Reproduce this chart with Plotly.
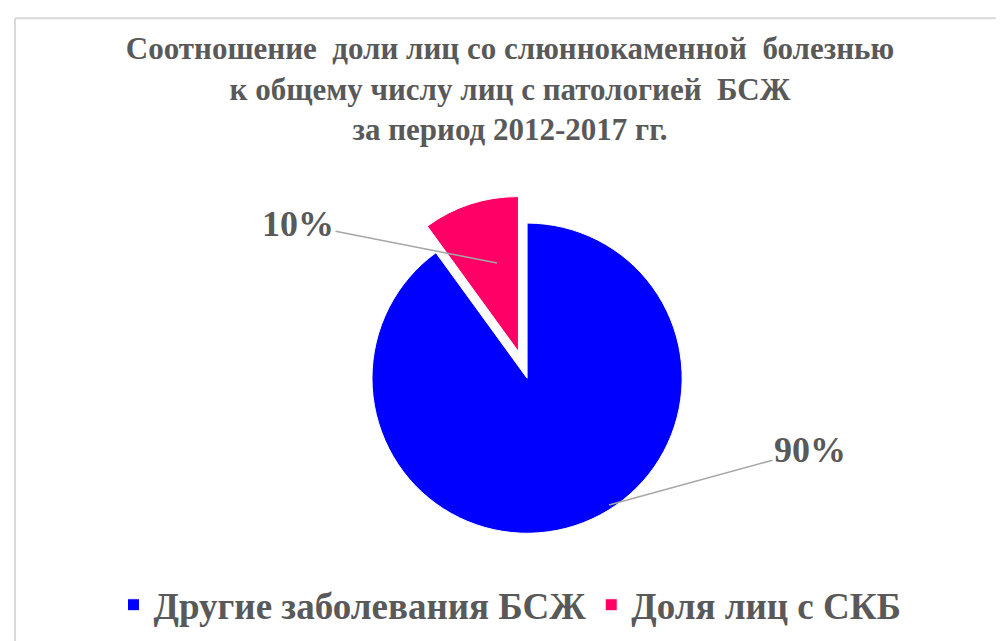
import plotly.graph_objects as go

categories = ["Другие заболевания БСЖ", "Доля лиц с СКБ"]
values = [90, 10]
colors = ["#0000FF", "#FF0066"]
pulls = [0, 0.18]

title_text = ("Соотношение  доли лиц со слюннокаменной  болезнью<br>"
              "к общему числу лиц с патологией  БСЖ<br>"
              "за период 2012-2017 гг.")

total = sum(values)
pct_text = [f"<b>{round(v / total * 100)}%</b>" for v in values]

fig = go.Figure(go.Pie(
    labels=categories,
    values=values,
    sort=False,
    direction="clockwise",
    rotation=0,
    pull=pulls,
    marker=dict(colors=colors, line=dict(color="white", width=1)),
    textinfo="none",
    domain=dict(x=[0.192, 0.842], y=[0.137, 0.708]),
    hoverinfo="label+percent",
))

label_font = dict(family="Liberation Serif", size=36, color="#595959")

fig.update_layout(
    width=1004, height=641,
    paper_bgcolor="white",
    margin=dict(l=0, r=0, t=0, b=0),
    title=dict(text="<b>" + title_text + "</b>", x=0.5, xanchor="center",
               y=0.92, yanchor="top",
               font=dict(family="Liberation Serif", size=31, color="#595959")),
    legend=dict(orientation="h", x=0.5, xanchor="center", y=0.02, yanchor="bottom",
                font=dict(family="Liberation Serif", size=37, color="#595959", weight="bold"),
                itemwidth=30, traceorder="normal"),
    annotations=[
        dict(text=pct_text[1], xref="paper", yref="paper",
             x=489 / 1004, y=1 - 255 / 641, ax=-199, ay=-39,
             showarrow=True, arrowhead=0, arrowwidth=1.5, arrowcolor="#A6A6A6",
             font=label_font),
        dict(text=pct_text[0], xref="paper", yref="paper",
             x=601 / 1004, y=1 - 497 / 641, ax=201, ay=-55,
             showarrow=True, arrowhead=0, arrowwidth=1.5, arrowcolor="#A6A6A6",
             font=label_font),
    ],
    shapes=[
        dict(type="line", xref="paper", yref="paper", x0=0.007, y0=0.984, x1=1.0, y1=0.984,
             line=dict(color="#D9D9D9", width=2)),
        dict(type="line", xref="paper", yref="paper", x0=0.007, y0=0.0, x1=0.007, y1=0.984,
             line=dict(color="#D9D9D9", width=2)),
    ],
)

fig.write_html("out.html")
